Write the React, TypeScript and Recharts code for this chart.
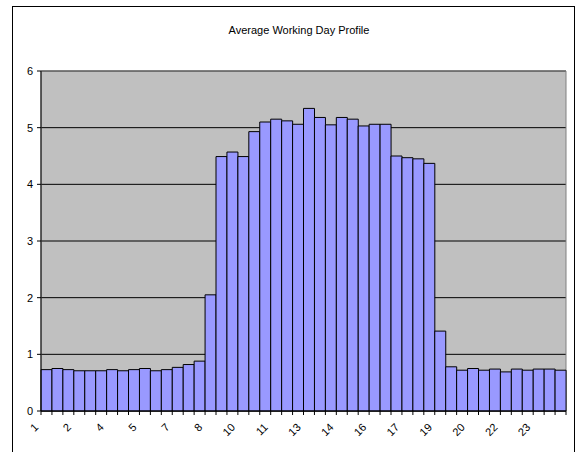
import { Bar, BarChart, CartesianGrid, ReferenceArea, XAxis, YAxis } from "recharts";

// half-hour slots, labelled by hour
const hours = [
  "1", "1", "2", "2", "3", "3", "4", "4", "5", "5", "6", "6",
  "7", "7", "8", "8", "9", "9", "10", "10", "11", "11", "12", "12",
  "13", "13", "14", "14", "15", "15", "16", "16", "17", "17", "18", "18",
  "19", "19", "20", "20", "21", "21", "22", "22", "23", "23", "24", "24",
];

const profile = [
  0.73, 0.75, 0.73, 0.71, 0.71, 0.71, 0.73, 0.71, 0.73, 0.75, 0.71, 0.73,
  0.77, 0.82, 0.88, 2.05, 4.49, 4.57, 4.49, 4.93, 5.1, 5.15, 5.12, 5.06,
  5.34, 5.18, 5.05, 5.18, 5.15, 5.03, 5.06, 5.06, 4.5, 4.47, 4.45, 4.37,
  1.41, 0.78, 0.72, 0.75, 0.72, 0.74, 0.69, 0.74, 0.72, 0.74, 0.74, 0.72,
];

const yTicks = [0, 1, 2, 3, 4, 5, 6];

const data = profile.map((value, i) => ({ slot: i + 1, hour: hours[i], value }));

const FONT = '"Liberation Sans", Arial, sans-serif';
const PLOT_WIDTH = 525;
const HALF = PLOT_WIDTH / data.length / 2;

function HourTick(props: any) {
  const { x, y, payload } = props;
  const i = payload.index;
  const left = x - HALF;
  return (
    <g>
      <line x1={left} y1={y} x2={left} y2={y + 4} stroke="#000" />
      {i === data.length - 1 && (
        <line x1={x + HALF} y1={y} x2={x + HALF} y2={y + 4} stroke="#000" />
      )}
      {i % 3 === 0 && (
        <text
          x={0}
          y={0}
          transform={`translate(${left - 2},${y + 17}) rotate(-45)`}
          textAnchor="end"
          fontSize={11}
          fontFamily={FONT}
          fill="#000"
        >
          {hours[i]}
        </text>
      )}
    </g>
  );
}

export default function App() {
  return (
    <div
      style={{
        position: "absolute",
        left: 0,
        top: 0,
        width: 576,
        height: 452,
        overflow: "hidden",
        background: "#fff",
        fontFamily: FONT,
      }}
    >
      <div
        style={{
          position: "absolute",
          left: 12,
          top: 6,
          width: 563,
          height: 500,
          border: "1px solid #000",
          boxSizing: "border-box",
        }}
      />
      <div
        style={{
          position: "absolute",
          left: 0,
          top: 24,
          width: 598,
          textAlign: "center",
          fontSize: 11,
          color: "#000",
        }}
      >
        Average Working Day Profile
      </div>
      <div style={{ position: "absolute", left: 0, top: 0 }}>
        <BarChart
          width={576}
          height={452}
          data={data}
          margin={{ top: 71, right: 10, left: 0, bottom: 0 }}
          barCategoryGap={0}
          barGap={0}
        >
          <CartesianGrid
            vertical={false}
            fill="#c0c0c0"
            fillOpacity={1}
            stroke="#000"
          />
          <ReferenceArea y1={0} y2={6} fill="none" stroke="#808080" ifOverflow="visible" />
          <XAxis
            dataKey="slot"
            type="category"
            height={41}
            interval={0}
            tickSize={0}
            tickMargin={0}
            tickLine={false}
            axisLine={{ stroke: "#000" }}
            tick={<HourTick />}
          />
          <YAxis
            width={41}
            domain={[0, 6]}
            ticks={yTicks}
            interval={0}
            tickSize={4}
            tickMargin={4}
            tick={{ fontSize: 11, fill: "#000", fontFamily: FONT }}
            tickLine={{ stroke: "#000" }}
            axisLine={{ stroke: "#000" }}
          />
          <Bar
            dataKey="value"
            fill="#9999ff"
            stroke="#000"
            strokeWidth={1}
            isAnimationActive={false}
          />
        </BarChart>
      </div>
    </div>
  );
}
